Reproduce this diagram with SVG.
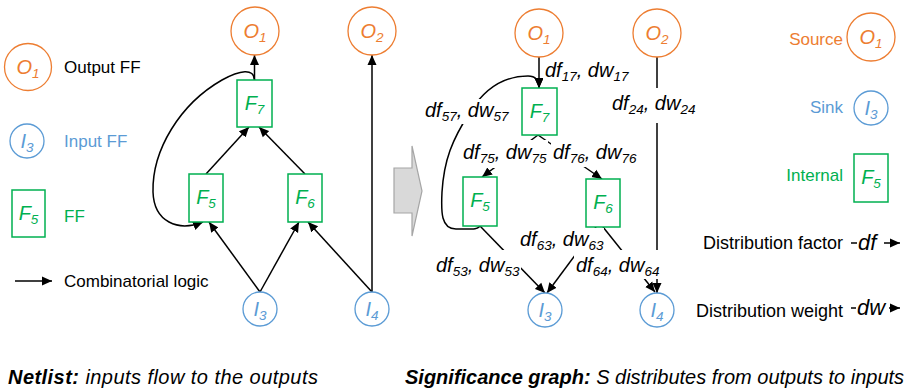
<svg xmlns="http://www.w3.org/2000/svg" width="904" height="391" viewBox="0 0 904 391">
<defs>
<style>
text{font-family:"Liberation Sans",Arial,sans-serif;}
.o{fill:#fff;stroke:#ED7D31;stroke-width:1.3}
.b{fill:#fff;stroke:#5B9BD5;stroke-width:1.3}
.g{fill:#fff;stroke:#00B050;stroke-width:1.5}
.to{fill:#ED7D31}
.tb{fill:#5B9BD5}
.tg{fill:#00B050}
.nt{font-size:20px;font-style:italic;text-anchor:middle}
.s{font-size:13.5px}
.e{fill:none;stroke:#000;stroke-width:1.5;marker-end:url(#ah)}
.lab{font-size:20px;font-style:italic;fill:#000}
.bx{fill:#fff;stroke:none}
.lg{font-size:17px}
.lg2{font-size:18px;fill:#000}
.cap{font-size:20px;font-style:italic;fill:#000}
</style>
<marker id="ah" viewBox="0 0 10 10" refX="10" refY="5" markerWidth="10" markerHeight="10" markerUnits="userSpaceOnUse" orient="auto">
<path d="M0,0.5 L10,5 L0,9.5 z" fill="#000"/>
</marker>
</defs>
<rect width="904" height="391" fill="#fff"/>

<!-- Left legend -->
<g id="legend-left">
<circle class="o" cx="28" cy="67" r="23.5"/>
<text class="nt to" x="28" y="74">O<tspan class="s" dy="4">1</tspan></text>
<text class="lg" x="64" y="73" fill="#000">Output FF</text>
<circle class="b" cx="27" cy="141" r="17"/>
<text class="nt tb" x="27" y="148">I<tspan class="s" dy="4">3</tspan></text>
<text class="lg tb" x="64" y="147">Input FF</text>
<rect class="g" x="12" y="190" width="33" height="47"/>
<text class="nt tg" x="28.5" y="220">F<tspan class="s" dy="4">5</tspan></text>
<text class="lg tg" x="64" y="222">FF</text>
<line class="e" x1="15" y1="281" x2="52" y2="281"/>
<text class="lg" x="64" y="287" fill="#000">Combinatorial logic</text>
</g>

<!-- Left graph connectors -->
<g id="netlist-connectors">
<line class="e" x1="254.5" y1="80" x2="254.5" y2="55"/>
<line class="e" x1="206" y1="174" x2="249" y2="127"/>
<line class="e" x1="305" y1="174" x2="259" y2="127"/>
<line class="e" x1="260" y1="292" x2="209" y2="222"/>
<line class="e" x1="260" y1="292" x2="299" y2="222"/>
<line class="e" x1="372" y1="292" x2="308" y2="222"/>
<line class="e" x1="372" y1="292" x2="372" y2="55"/>
<path class="e" d="M254.5,80 C254,68 240,70 222,80 C180,104 152,150 153,192 C154,222 178,232 203,222"/>
</g>

<!-- Left graph nodes -->
<g id="n-O1"><circle class="o" cx="255" cy="31" r="24"/><text class="nt to" x="255" y="38">O<tspan class="s" dy="4">1</tspan></text></g>
<g id="n-O2"><circle class="o" cx="372" cy="31" r="24"/><text class="nt to" x="372" y="38">O<tspan class="s" dy="4">2</tspan></text></g>
<g id="n-F7"><rect class="g" x="237" y="80" width="35" height="47"/><text class="nt tg" x="254.5" y="110">F<tspan class="s" dy="4">7</tspan></text></g>
<g id="n-F5"><rect class="g" x="189" y="174" width="34" height="48"/><text class="nt tg" x="206" y="204">F<tspan class="s" dy="4">5</tspan></text></g>
<g id="n-F6"><rect class="g" x="288" y="174" width="34" height="48"/><text class="nt tg" x="305" y="204">F<tspan class="s" dy="4">6</tspan></text></g>
<g id="n-I3"><circle class="b" cx="260" cy="309" r="17"/><text class="nt tb" x="260" y="316">I<tspan class="s" dy="4">3</tspan></text></g>
<g id="n-I4"><circle class="b" cx="372" cy="309" r="17"/><text class="nt tb" x="372" y="316">I<tspan class="s" dy="4">4</tspan></text></g>

<!-- Block arrow -->
<g id="transform-arrow">
<polygon points="394,168 412,168 412,146 422,191 412,236 412,213 394,213" fill="#d9d9d9" stroke="#a6a6a6" stroke-width="1.2"/>
</g>

<!-- Right graph connectors -->
<g id="significance-connectors">
<line class="e" x1="539" y1="57" x2="539" y2="88"/>
<path class="e" d="M480,225 C480,230 470,229 456,229 C441,229 441,212 442,192 C444,160 452,140 470,112 C485,88 505,76 528,76 C536,76 539,80 539,88"/>
<line class="e" x1="538" y1="135" x2="482" y2="177"/>
<line class="e" x1="538" y1="135" x2="602" y2="179"/>
<line class="e" x1="480" y1="226" x2="545" y2="293"/>
<line class="e" x1="596" y1="227" x2="547" y2="293"/>
<line class="e" x1="603" y1="227" x2="655" y2="292"/>
<line class="e" x1="657" y1="57" x2="657" y2="293"/>
</g>

<!-- Right graph labels -->
<g id="edge-labels" class="lab">
<rect class="bx" x="543" y="60" width="88" height="25"/>
<text x="545" y="77">df<tspan class="s" dy="4">17</tspan><tspan dy="-4">, dw</tspan><tspan class="s" dy="4">17</tspan></text>
<rect class="bx" x="423" y="99" width="88" height="25"/>
<text x="425" y="117">df<tspan class="s" dy="4">57</tspan><tspan dy="-4">, dw</tspan><tspan class="s" dy="4">57</tspan></text>
<rect class="bx" x="610" y="88" width="90" height="35"/>
<text x="612" y="110">df<tspan class="s" dy="4">24</tspan><tspan dy="-4">, dw</tspan><tspan class="s" dy="4">24</tspan></text>
<rect class="bx" x="461" y="140" width="87" height="28"/>
<text x="463" y="159">df<tspan class="s" dy="4">75</tspan><tspan dy="-4">, dw</tspan><tspan class="s" dy="4">75</tspan></text>
<rect class="bx" x="551" y="142" width="89" height="25"/>
<text x="553" y="159">df<tspan class="s" dy="4">76</tspan><tspan dy="-4">, dw</tspan><tspan class="s" dy="4">76</tspan></text>
<rect class="bx" x="518" y="228" width="86" height="23"/>
<text x="520" y="246">df<tspan class="s" dy="4">63</tspan><tspan dy="-4">, dw</tspan><tspan class="s" dy="4">63</tspan></text>
<rect class="bx" x="435" y="250" width="86" height="29"/>
<text x="436" y="272">df<tspan class="s" dy="4">53</tspan><tspan dy="-4">, dw</tspan><tspan class="s" dy="4">53</tspan></text>
<rect class="bx" x="574" y="250" width="88" height="29"/>
<text x="576" y="272">df<tspan class="s" dy="4">64</tspan><tspan dy="-4">, dw</tspan><tspan class="s" dy="4">64</tspan></text>
</g>

<!-- Right graph nodes -->
<g id="s-O1"><circle class="o" cx="539" cy="33" r="24"/><text class="nt to" x="539" y="40">O<tspan class="s" dy="4">1</tspan></text></g>
<g id="s-O2"><circle class="o" cx="657" cy="33" r="24"/><text class="nt to" x="657" y="40">O<tspan class="s" dy="4">2</tspan></text></g>
<g id="s-F7"><rect class="g" x="522" y="88" width="35" height="47"/><text class="nt tg" x="539.5" y="118">F<tspan class="s" dy="4">7</tspan></text></g>
<g id="s-F5"><rect class="g" x="463" y="177" width="34" height="49"/><text class="nt tg" x="480" y="207">F<tspan class="s" dy="4">5</tspan></text></g>
<g id="s-F6"><rect class="g" x="586" y="179" width="34" height="48"/><text class="nt tg" x="603" y="209">F<tspan class="s" dy="4">6</tspan></text></g>
<g id="s-I3"><circle class="b" cx="545" cy="310" r="17"/><text class="nt tb" x="545" y="317">I<tspan class="s" dy="4">3</tspan></text></g>
<g id="s-I4"><circle class="b" cx="657" cy="310" r="17"/><text class="nt tb" x="657" y="317">I<tspan class="s" dy="4">4</tspan></text></g>

<!-- Right legend -->
<g id="legend-right">
<text class="lg to" x="843" y="45" text-anchor="end">Source</text>
<circle class="o" cx="871" cy="37" r="24"/>
<text class="nt to" x="871" y="44">O<tspan class="s" dy="4">1</tspan></text>
<text class="lg tb" x="843" y="113" text-anchor="end">Sink</text>
<circle class="b" cx="871" cy="108" r="17"/>
<text class="nt tb" x="871" y="115">I<tspan class="s" dy="4">3</tspan></text>
<text class="lg tg" x="843" y="181" text-anchor="end">Internal</text>
<rect class="g" x="854" y="154" width="34" height="48"/>
<text class="nt tg" x="871" y="184">F<tspan class="s" dy="4">5</tspan></text>
<text class="lg2" x="843" y="249" text-anchor="end">Distribution factor</text>
<line class="e" x1="851" y1="243" x2="900" y2="243"/>
<rect class="bx" x="857" y="230" width="27" height="26"/>
<text x="858" y="250" font-size="22" font-style="italic" fill="#000">df</text>
<text class="lg2" x="843" y="317" text-anchor="end">Distribution weight</text>
<line class="e" x1="851" y1="308" x2="900" y2="308"/>
<rect class="bx" x="856" y="296" width="33" height="24"/>
<text x="857" y="315" font-size="22" font-style="italic" fill="#000">dw</text>
</g>

<!-- Captions -->
<g id="captions">
<text class="cap" x="8" y="384" letter-spacing="0.45"><tspan font-weight="bold">Netlist:</tspan> inputs flow to the outputs</text>
<text class="cap" x="405" y="384"><tspan font-weight="bold">Significance graph:</tspan> S distributes from outputs to inputs</text>
</g>
</svg>
